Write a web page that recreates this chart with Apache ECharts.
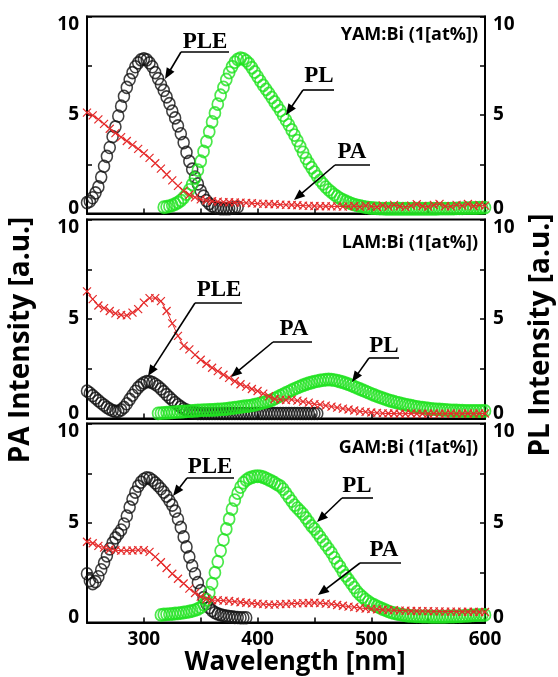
<!DOCTYPE html>
<html><head><meta charset="utf-8">
<script src="https://cdn.jsdelivr.net/npm/echarts@6/dist/echarts.min.js"></script>
<style>html,body{margin:0;padding:0;background:#fff}#c{width:558px;height:677px}</style>
</head><body><div id="c"></div>
<script>
// ---------------- DATA ----------------
const STEP_RING = 2.5;   // nm between circle markers
const STEP_PA = 5;       // nm between cross markers
const X_TICK_LABELS = [300, 400, 500, 600];
const Y_TICK_LABELS = [0, 5, 10];
const PANEL_NAMES = ['YAM:Bi (1[at%])', 'LAM:Bi (1[at%])', 'GAM:Bi (1[at%])'];

// YAM
const YAM_PLE_START = 250;
const YAM_PLE = [
 0.55,0.62,0.80,1.05,1.35,1.85,2.40,2.90,
 3.35,3.90,4.40,4.95,5.45,5.95,6.40,6.80,
 7.15,7.45,7.65,7.80,7.85,7.80,7.65,7.45,
 7.15,6.85,6.55,6.25,5.92,5.58,5.20,4.85,
 4.45,4.05,3.60,3.10,2.65,2.25,1.85,1.50,
 1.15,0.88,0.65,0.50,0.38,0.31,0.27,0.25,
 0.24,0.24,0.25,0.27,0.30,0.33];
const YAM_PL_START = 317.5;
const YAM_PL = [
 0.32,0.34,0.37,0.42,0.48,0.56,0.66,0.80,
 0.98,1.20,1.48,1.80,2.20,2.65,3.15,3.65,
 4.15,4.65,5.10,5.55,6.00,6.40,6.80,7.15,
 7.45,7.68,7.82,7.88,7.85,7.75,7.60,7.40,
 7.18,6.95,6.72,6.50,6.30,6.10,5.88,5.66,
 5.45,5.22,4.98,4.74,4.50,4.24,3.98,3.70,
 3.40,3.10,2.80,2.55,2.32,2.10,1.88,1.68,
 1.50,1.34,1.20,1.08,0.96,0.86,0.77,0.69,
 0.62,0.56,0.50,0.45,0.41,0.38,0.35,0.32,
 0.30,0.28,0.27,0.26,0.25,0.25,0.24,0.24,
 0.24,0.24,0.24,0.24,0.24,0.24,0.24,0.24,
 0.24,0.24,0.24,0.24,0.24,0.24,0.24,0.24,
 0.24,0.25,0.25,0.25,0.25,0.25,0.25,0.26,
 0.26,0.26,0.27,0.27,0.27,0.28,0.28,0.29,
 0.29,0.30];
const YAM_PA_START = 250;
const YAM_PA = [
 5.12,4.98,4.78,4.55,4.30,4.08,3.88,3.68,3.48,3.28,
 3.05,2.82,2.55,2.28,1.98,1.68,1.40,1.15,0.95,0.82,
 0.72,0.66,0.62,0.60,0.58,0.57,0.56,0.55,0.54,0.52,
 0.50,0.49,0.48,0.47,0.45,0.44,0.43,0.42,0.40,0.39,
 0.38,0.37,0.37,0.36,0.36,0.35,0.36,0.38,0.34,0.40,
 0.36,0.33,0.41,0.35,0.44,0.37,0.32,0.40,0.47,0.38,
 0.35,0.43,0.49,0.37,0.36,0.44,0.40,0.48,0.38,0.43,
 0.40];

// LAM
const LAM_PLE_START = 250;
const LAM_PLE = [
 1.38,1.28,1.15,1.02,0.90,0.78,0.67,0.56,
 0.47,0.40,0.36,0.36,0.43,0.56,0.74,0.96,
 1.17,1.37,1.55,1.69,1.79,1.85,1.85,1.80,
 1.72,1.62,1.49,1.35,1.20,1.06,0.93,0.80,
 0.69,0.58,0.49,0.42,0.36,0.31,0.28,0.26,
 0.25,0.25,0.25,0.25,0.25,0.25,0.25,0.25,
 0.25,0.25,0.25,0.25,0.25,0.25,0.25,0.25,
 0.25,0.25,0.25,0.25,0.25,0.25,0.25,0.25,
 0.25,0.25,0.25,0.25,0.25,0.25,0.25,0.25,
 0.25,0.25,0.25,0.25,0.25,0.25,0.25,0.25,
 0.25,0.25];
const LAM_PL_START = 312.5;
const LAM_PL = [
 0.26,0.27,0.28,0.29,0.30,0.31,0.32,0.33,
 0.34,0.35,0.36,0.37,0.38,0.39,0.40,0.41,
 0.42,0.42,0.43,0.43,0.44,0.45,0.46,0.47,
 0.48,0.50,0.52,0.54,0.56,0.58,0.60,0.62,
 0.63,0.66,0.69,0.72,0.76,0.80,0.84,0.88,
 0.93,1.00,1.07,1.14,1.21,1.28,1.35,1.42,
 1.49,1.55,1.61,1.67,1.72,1.77,1.81,1.85,
 1.88,1.91,1.93,1.95,1.96,1.95,1.93,1.90,
 1.86,1.82,1.77,1.72,1.66,1.60,1.54,1.48,
 1.42,1.36,1.30,1.24,1.18,1.12,1.07,1.02,
 0.97,0.92,0.88,0.84,0.80,0.77,0.73,0.70,
 0.67,0.64,0.61,0.58,0.56,0.54,0.52,0.50,
 0.48,0.47,0.46,0.45,0.44,0.43,0.42,0.41,
 0.40,0.40,0.39,0.39,0.38,0.38,0.38,0.38,
 0.38,0.38,0.38,0.38];
const LAM_PA_START = 250;
const LAM_PA = [
 6.39,6.00,5.68,5.55,5.40,5.28,5.20,5.18,5.32,5.50,
 5.82,6.05,6.05,5.90,5.40,4.78,4.15,3.65,3.47,3.20,
 2.95,2.75,2.55,2.38,2.20,2.04,1.87,1.72,1.60,1.48,
 1.38,1.25,1.12,0.98,0.95,0.92,0.95,0.90,0.85,0.80,
 0.72,0.70,0.65,0.60,0.55,0.50,0.45,0.40,0.36,0.33,
 0.30,0.28,0.26,0.25,0.25,0.24,0.24,0.25,0.24,0.24,
 0.24,0.25,0.24,0.24,0.25,0.24,0.24,0.25,0.24,0.25,
 0.25];

// GAM
const GAM_PLE_START = 250;
const GAM_PLE = [
 2.45,2.10,1.95,2.05,2.30,2.65,3.00,3.35,
 3.70,4.00,4.25,4.45,4.65,4.95,5.35,5.80,
 6.20,6.55,6.85,7.05,7.20,7.27,7.25,7.15,
 7.02,6.88,6.72,6.55,6.35,6.12,5.90,5.60,
 5.20,4.78,4.30,3.80,3.30,2.85,2.45,2.00,
 1.60,1.25,0.95,0.75,0.60,0.50,0.43,0.38,
 0.35,0.32,0.30,0.28,0.26,0.25,0.24,0.24,
 0.24];
const GAM_PL_START = 315;
const GAM_PL = [
 0.38,0.40,0.41,0.42,0.43,0.45,0.46,0.48,
 0.50,0.52,0.55,0.58,0.62,0.68,0.76,0.90,
 1.15,1.50,1.95,2.50,3.05,3.60,4.15,4.70,
 5.20,5.70,6.15,6.50,6.80,7.02,7.15,7.25,
 7.30,7.34,7.35,7.34,7.30,7.24,7.17,7.10,
 7.02,6.93,6.85,6.70,6.50,6.30,6.10,5.90,
 5.75,5.60,5.45,5.25,5.05,4.85,4.70,4.50,
 4.30,4.10,3.90,3.70,3.50,3.25,3.00,2.80,
 2.55,2.35,2.15,1.95,1.75,1.55,1.40,1.27,
 1.15,1.05,0.95,0.88,0.81,0.75,0.68,0.62,
 0.56,0.51,0.47,0.44,0.41,0.38,0.36,0.34,
 0.33,0.32,0.31,0.31,0.30,0.30,0.30,0.29,
 0.29,0.29,0.29,0.29,0.29,0.30,0.30,0.30,
 0.31,0.31,0.32,0.33,0.34,0.35,0.36,0.37,
 0.37,0.38,0.38];
const GAM_PA_START = 250;
const GAM_PA = [
 4.06,3.98,3.85,3.76,3.68,3.63,3.61,3.61,3.62,3.64,
 3.64,3.55,3.30,3.03,2.74,2.45,2.20,1.96,1.70,1.48,
 1.30,1.18,1.12,1.12,1.10,1.08,1.05,1.02,0.99,0.96,
 0.94,0.92,0.90,0.90,0.92,0.93,0.95,0.96,0.97,0.98,
 0.99,0.97,0.95,0.92,0.88,0.84,0.80,0.77,0.73,0.70,
 0.68,0.66,0.64,0.62,0.62,0.60,0.60,0.58,0.58,0.57,
 0.57,0.56,0.56,0.55,0.55,0.55,0.54,0.54,0.54,0.53,
 0.53];

// ---------------- CHART ----------------
function pairs(start, step, vals) { return vals.map((v, i) => [start + i * step, v]); }

const PANELS = [
  { ple: pairs(YAM_PLE_START, STEP_RING, YAM_PLE), pl: pairs(YAM_PL_START, STEP_RING, YAM_PL), pa: pairs(YAM_PA_START, STEP_PA, YAM_PA) },
  { ple: pairs(LAM_PLE_START, STEP_RING, LAM_PLE), pl: pairs(LAM_PL_START, STEP_RING, LAM_PL), pa: pairs(LAM_PA_START, STEP_PA, LAM_PA) },
  { ple: pairs(GAM_PLE_START, STEP_RING, GAM_PLE), pl: pairs(GAM_PL_START, STEP_RING, GAM_PL), pa: pairs(GAM_PA_START, STEP_PA, GAM_PA) }
];

const SANS = 'Open Sans';
const SERIF = 'Liberation Serif';
const GREEN = '#1fe21f';
const RED = '#e52a2a';
const GRID_TOPS = [16.5, 219.5, 423.5];
const GRID_H = [197, 199, 199];

const grids = GRID_TOPS.map((t, i) => ({
  left: 87, width: 398, top: t, height: GRID_H[i],
  show: true, borderColor: '#000', borderWidth: 2, backgroundColor: 'rgba(0,0,0,0)'
}));

const xAxes = [0, 1, 2].map(i => ({
  type: 'value', gridIndex: i, min: 250, max: 600, interval: 50,
  axisLine: { show: true, onZero: false, lineStyle: { color: '#000', width: 2 } },
  axisTick: { show: true, inside: true, length: 5, lineStyle: { color: '#000', width: 1.5 } },
  splitLine: { show: false },
  axisLabel: {
    show: i === 2, margin: 8, color: '#000', fontFamily: SANS, fontWeight: 'bold', fontSize: 19,
    formatter: v => X_TICK_LABELS.includes(v) ? String(v) : ''
  }
}));

function yAxis(i, pos) {
  return {
    type: 'value', gridIndex: i, position: pos, min: 0, max: 10, interval: 2.5,
    axisLine: { show: true, lineStyle: { color: '#000', width: 2 } },
    axisTick: { show: true, inside: true, length: 5, lineStyle: { color: '#000', width: 1.5 } },
    splitLine: { show: false },
    axisLabel: {
      margin: 8, color: '#000', fontFamily: SANS, fontWeight: 'bold', fontSize: 19,
      formatter: v => {
        if (!Y_TICK_LABELS.includes(v)) return '';
        if (v === 10) return '{t|10}';
        if (v === 0) return '{b|0}';
        return String(v);
      },
      rich: {
        t: { padding: [16, 0, 0, 0], fontFamily: SANS, fontWeight: 'bold', fontSize: 19, color: '#000' },
        b: { padding: [0, 0, 10, 0], fontFamily: SANS, fontWeight: 'bold', fontSize: 19, color: '#000' }
      }
    }
  };
}
const yAxes = [];
for (let i = 0; i < 3; i++) { yAxes.push(yAxis(i, 'left')); yAxes.push(yAxis(i, 'right')); }

const CROSS = 'path://M0,0L10,10M10,0L0,10';
const series = [];
PANELS.forEach((p, i) => {
  series.push({
    type: 'scatter', name: 'PLE', xAxisIndex: i, yAxisIndex: 2 * i, data: p.ple,
    symbol: 'circle', symbolSize: [11, 12], z: 2, clip: false,
    itemStyle: { color: 'rgba(0,0,0,0)', borderColor: '#111', borderWidth: 1.6 }
  });
  series.push({
    type: 'scatter', name: 'PL', xAxisIndex: i, yAxisIndex: 2 * i + 1, data: p.pl,
    symbol: 'circle', symbolSize: [11, 12], z: 3, clip: false,
    itemStyle: { color: 'rgba(0,0,0,0)', borderColor: GREEN, borderWidth: 1.8 }
  });
  series.push({
    type: 'line', name: 'PA', xAxisIndex: i, yAxisIndex: 2 * i, data: p.pa,
    symbol: CROSS, symbolSize: 8, showAllSymbol: true, z: 4,
    lineStyle: { color: RED, width: 1 },
    itemStyle: { color: 'rgba(0,0,0,0)', borderColor: RED, borderWidth: 1.2 }
  });
});

// annotations: label, text centre, underline x-range and y, arrow tip
const ANN = [
  ['PLE', 205, 42, 181, 229, 52, 165, 79],
  ['PL', 319, 76, 303, 334, 90, 286, 115],
  ['PA', 352, 152, 335, 370, 165, 294, 200],
  ['PLE', 219, 290, 195, 242, 303, 148, 376],
  ['PA', 294, 329, 273, 312, 342, 231, 377],
  ['PL', 384, 346, 369, 399, 358, 352, 382],
  ['PLE', 210, 467, 187, 234, 478, 173, 496],
  ['PL', 357, 486, 342, 373, 498, 317, 522],
  ['PA', 384, 550, 360, 401, 563, 318, 595]
];
const graphic = [];
ANN.forEach(a => {
  const [txt, tx, ty, ux0, ux1, uy, px, py] = a;
  graphic.push({ type: 'text', z: 100, style: { text: txt, x: tx, y: ty, font: 'bold 23px "' + SERIF + '"', fill: '#000', textAlign: 'center', textVerticalAlign: 'middle' } });
  graphic.push({ type: 'line', z: 100, shape: { x1: ux0, y1: uy, x2: ux1, y2: uy }, style: { stroke: '#000', lineWidth: 1.6 } });
  const dx = px - ux0, dy = py - uy, L = Math.hypot(dx, dy), ux = dx / L, uy2 = dy / L;
  const hl = 11, hw = 4.5;
  const bx = px - ux * hl, by = py - uy2 * hl;
  graphic.push({ type: 'line', z: 100, shape: { x1: ux0, y1: uy, x2: bx + ux * 2, y2: by + uy2 * 2 }, style: { stroke: '#000', lineWidth: 1.6 } });
  graphic.push({ type: 'polygon', z: 100, shape: { points: [[px, py], [bx - uy2 * hw, by + ux * hw], [bx + uy2 * hw, by - ux * hw]] }, style: { fill: '#000' } });
});
const PANEL_LABEL_Y = [35, 243, 448];
PANEL_NAMES.forEach((n, i) => {
  graphic.push({ type: 'text', z: 100, style: { text: n, x: 478, y: PANEL_LABEL_Y[i], font: 'bold 18px "' + SANS + '"', fill: '#000', textAlign: 'right', textVerticalAlign: 'middle' } });
});
graphic.push({ type: 'text', z: 100, rotation: Math.PI / 2, x: 21, y: 340, style: { text: 'PA Intensity [a.u.]', x: 0, y: 0, font: 'bold 28px "' + SANS + '"', fill: '#000', textAlign: 'center', textVerticalAlign: 'middle' } });
graphic.push({ type: 'text', z: 100, rotation: Math.PI / 2, x: 541, y: 335, style: { text: 'PL Intensity [a.u.]', x: 0, y: 0, font: 'bold 28px "' + SANS + '"', fill: '#000', textAlign: 'center', textVerticalAlign: 'middle' } });
graphic.push({ type: 'text', z: 100, x: 295, y: 663, style: { text: 'Wavelength [nm]', x: 0, y: 0, font: 'bold 26px "' + SANS + '"', fill: '#000', textAlign: 'center', textVerticalAlign: 'middle' } });

const chart = echarts.init(document.getElementById('c'), null, { renderer: 'canvas' });
chart.setOption({
  animation: false, backgroundColor: '#fff',
  grid: grids, xAxis: xAxes, yAxis: yAxes, series: series, graphic: graphic
});
</script></body></html>
